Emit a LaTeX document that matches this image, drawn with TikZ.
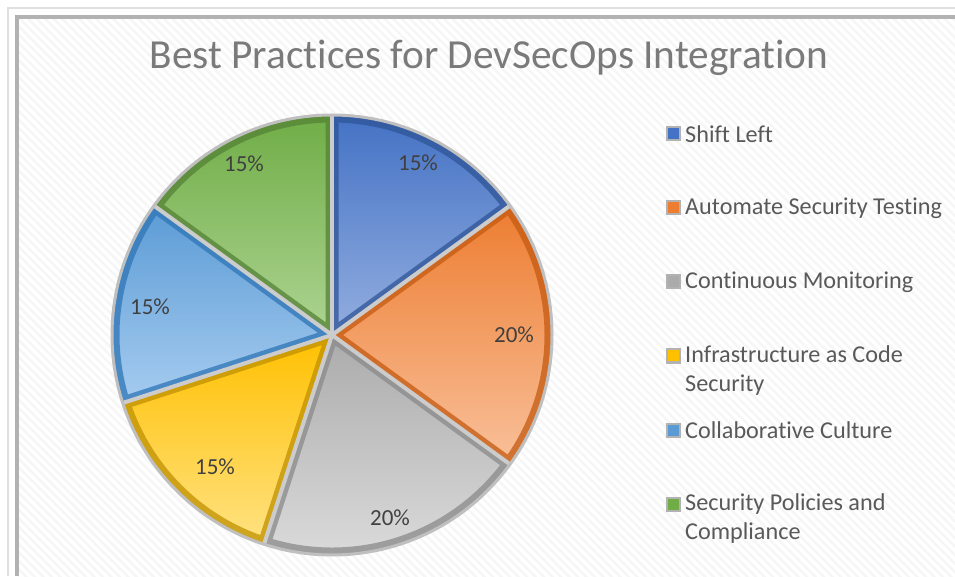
\documentclass[tikz,border=0pt]{standalone}
\usepackage{fontspec}
\setmainfont{Carlito}[Ligatures=NoCommon]
\usetikzlibrary{patterns.meta}

\definecolor{slTop}{HTML}{4472C4}
\definecolor{slBot}{HTML}{93AEE0}
\definecolor{slDark}{HTML}{2F5597}
\definecolor{astTop}{HTML}{ED7D31}
\definecolor{astBot}{HTML}{F9C09A}
\definecolor{astDark}{HTML}{C55A11}
\definecolor{cmTop}{HTML}{ABABAB}
\definecolor{cmBot}{HTML}{DEDEDE}
\definecolor{cmDark}{HTML}{8A8A8A}
\definecolor{iacTop}{HTML}{FFC000}
\definecolor{iacBot}{HTML}{FFE282}
\definecolor{iacDark}{HTML}{BF9000}
\definecolor{ccTop}{HTML}{5B9BD5}
\definecolor{ccBot}{HTML}{A6CCF0}
\definecolor{ccDark}{HTML}{2E75B6}
\definecolor{spcTop}{HTML}{70AD47}
\definecolor{spcBot}{HTML}{ADD492}
\definecolor{spcDark}{HTML}{548235}
\definecolor{txtGray}{HTML}{595959}
\definecolor{pctGray}{HTML}{404040}

\begin{document}
\begin{tikzpicture}[x=1pt, y=1pt]
    \tikzstyle{bevel} = [line width=13, opacity=0.75]
    \tikzstyle{gap} = [draw=gray!40, line width=4]
    \tikzstyle{pct} = [text=pctGray, font=\fontsize{23}{27}\selectfont]
    \tikzstyle{key} = [draw=gray!60, line width=2, minimum size=13, inner sep=0]
    \tikzstyle{legend} = [anchor=west, align=left, inner sep=0, text=txtGray, font=\fontsize{24.2}{29}\selectfont]
    \useasboundingbox (0,0) rectangle (955,576);
    % frame and striped background
    \fill[pattern={Lines[angle=-45, distance=6pt, line width=2.5pt]}, pattern color=gray!7] (18,0) rectangle (955,558);
    \draw[gray!25, line width=2] (8,0) -- (8,568) -- (955,568);
    \draw[gray!60, line width=3.5] (17,0) -- (17,559) -- (955,559);
    \node (title) at (489,518) {\fontsize{41.3}{48}\selectfont\color{txtGray!80!white} Best Practices for DevSecOps Integration};
    % pie
    \coordinate (ctr) at (332,241);
    \shade[top color=slTop, bottom color=slBot] (ctr) -- ++(90:219) arc[start angle=90, end angle=36, radius=219] -- cycle;
    \begin{scope}
        \clip (ctr) -- ++(90:219) arc[start angle=90, end angle=36, radius=219] -- cycle;
        \draw[slDark, bevel] (ctr) -- ++(90:219) arc[start angle=90, end angle=36, radius=219] -- cycle;
    \end{scope}
    \shade[top color=astTop, bottom color=astBot] (ctr) -- ++(36:219) arc[start angle=36, end angle=-36, radius=219] -- cycle;
    \begin{scope}
        \clip (ctr) -- ++(36:219) arc[start angle=36, end angle=-36, radius=219] -- cycle;
        \draw[astDark, bevel] (ctr) -- ++(36:219) arc[start angle=36, end angle=-36, radius=219] -- cycle;
    \end{scope}
    \shade[top color=cmTop, bottom color=cmBot] (ctr) -- ++(-36:219) arc[start angle=-36, end angle=-108, radius=219] -- cycle;
    \begin{scope}
        \clip (ctr) -- ++(-36:219) arc[start angle=-36, end angle=-108, radius=219] -- cycle;
        \draw[cmDark, bevel] (ctr) -- ++(-36:219) arc[start angle=-36, end angle=-108, radius=219] -- cycle;
    \end{scope}
    \shade[top color=iacTop, bottom color=iacBot] (ctr) -- ++(-108:219) arc[start angle=-108, end angle=-162, radius=219] -- cycle;
    \begin{scope}
        \clip (ctr) -- ++(-108:219) arc[start angle=-108, end angle=-162, radius=219] -- cycle;
        \draw[iacDark, bevel] (ctr) -- ++(-108:219) arc[start angle=-108, end angle=-162, radius=219] -- cycle;
    \end{scope}
    \shade[top color=ccTop, bottom color=ccBot] (ctr) -- ++(198:219) arc[start angle=198, end angle=144, radius=219] -- cycle;
    \begin{scope}
        \clip (ctr) -- ++(198:219) arc[start angle=198, end angle=144, radius=219] -- cycle;
        \draw[ccDark, bevel] (ctr) -- ++(198:219) arc[start angle=198, end angle=144, radius=219] -- cycle;
    \end{scope}
    \shade[top color=spcTop, bottom color=spcBot] (ctr) -- ++(144:219) arc[start angle=144, end angle=90, radius=219] -- cycle;
    \begin{scope}
        \clip (ctr) -- ++(144:219) arc[start angle=144, end angle=90, radius=219] -- cycle;
        \draw[spcDark, bevel] (ctr) -- ++(144:219) arc[start angle=144, end angle=90, radius=219] -- cycle;
    \end{scope}
    % slice gaps and rim
    \draw[gap] (ctr) -- ++(90:219);
    \draw[gap] (ctr) -- ++(36:219);
    \draw[gap] (ctr) -- ++(-36:219);
    \draw[gap] (ctr) -- ++(-108:219);
    \draw[gap] (ctr) -- ++(198:219);
    \draw[gap] (ctr) -- ++(144:219);
    \draw[gray!50, line width=3] (ctr) circle (220);
    \node[pct] (pct-sl) at (418,413) {15\%};
    \node[pct] (pct-ast) at (514,241) {20\%};
    \node[pct] (pct-cm) at (390,58) {20\%};
    \node[pct] (pct-iac) at (215,109) {15\%};
    \node[pct] (pct-cc) at (150,269) {15\%};
    \node[pct] (pct-spc) at (244,412) {15\%};
    % legend
    \node[key, fill=slTop] (key-sl) at (673,442) {};
    \node[key, fill=astTop] (key-ast) at (673,368) {};
    \node[key, fill=cmTop] (key-cm) at (673,294) {};
    \node[key, fill=iacTop] (key-iac) at (673,220) {};
    \node[key, fill=ccTop] (key-cc) at (673,146) {};
    \node[key, fill=spcTop] (key-spc) at (673,72) {};
    \node[legend] (leg-sl) at (685,442) {Shift Left};
    \node[legend] (leg-ast) at (685,368) {Automate Security Testing};
    \node[legend] (leg-cm) at (685,294) {Continuous Monitoring};
    \node[legend] (leg-iac) at (685,205.5) {Infrastructure as Code\\Security};
    \node[legend] (leg-cc) at (685,146) {Collaborative Culture};
    \node[legend] (leg-spc) at (685,57.5) {Security Policies and\\Compliance};
\end{tikzpicture}
\end{document}
